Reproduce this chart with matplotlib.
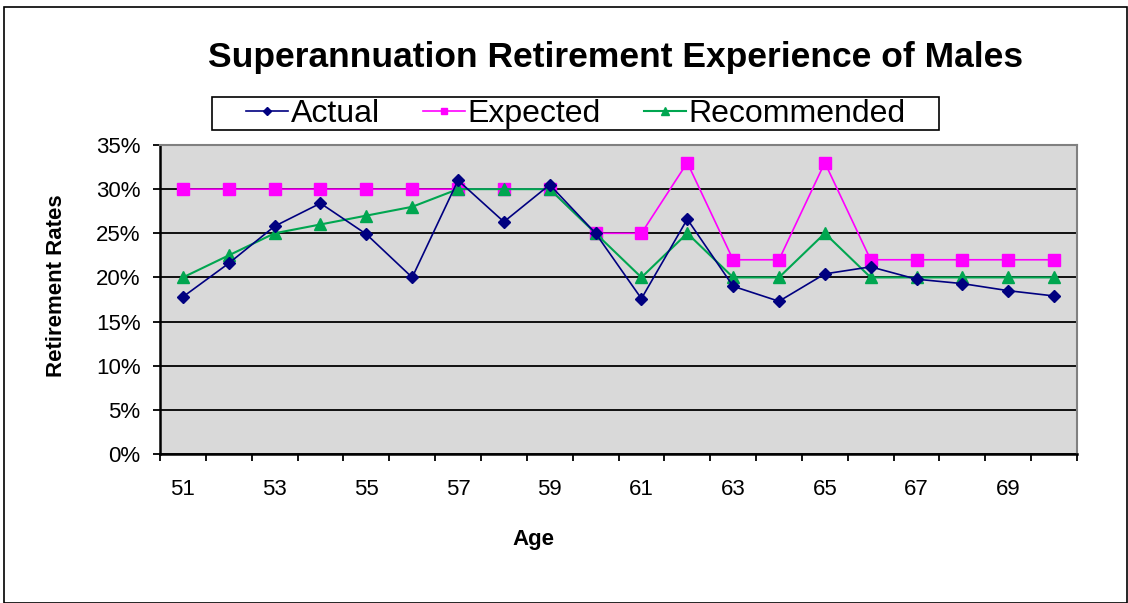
import matplotlib
matplotlib.use("Agg")
import matplotlib.pyplot as plt
from matplotlib.patches import Rectangle
from matplotlib.ticker import FixedLocator, FuncFormatter

plt.rcParams['font.family'] = ['Liberation Sans', 'DejaVu Sans']

ages = list(range(51, 71))
actual = [17.8, 21.6, 25.8, 28.4, 24.9, 20.0, 31.0, 26.3, 30.5, 25.0,
          17.6, 26.6, 19.0, 17.3, 20.4, 21.2, 19.8, 19.3, 18.5, 17.9]
expected = [30, 30, 30, 30, 30, 30, 30, 30, 30, 25,
            25, 33, 22, 22, 33, 22, 22, 22, 22, 22]
recommended = [20, 22.5, 25, 26, 27, 28, 30, 30, 30, 25,
               20, 25, 20, 20, 25, 20, 20, 20, 20, 20]
tick_ages = [51, 53, 55, 57, 59, 61, 63, 65, 67, 69]

W, H = 1128, 603
fig = plt.figure(figsize=(W / 100, H / 100), dpi=100)
fig.patch.set_facecolor('white')
fig.patches.append(Rectangle((4 / W, 0), 1 - 5 / W, 1 - 7 / H, transform=fig.transFigure,
                             fill=False, edgecolor='black', linewidth=1.2))

ax = fig.add_axes([160 / W, (H - 454) / H, (1077 - 160) / W, (454 - 145) / H])
ax.set_facecolor('#D9D9D9')
x = list(range(len(ages)))

ax.plot(x, actual, color='#000080', marker='D', markersize=6.5, linewidth=1.2,
        label='Actual', zorder=5)
ax.plot(x, expected, color='#FF00FF', marker='s', markersize=8, linewidth=1.2,
        label='Expected', zorder=4)
ax.plot(x, recommended, color='#00A650', marker='^', markersize=9, linewidth=1.5,
        label='Recommended', zorder=4)

ax.set_xlim(-0.5, len(ages) - 0.5)
ax.set_ylim(0, 35)
ax.set_yticks([0, 5, 10, 15, 20, 25, 30, 35])
ax.yaxis.set_major_formatter(FuncFormatter(lambda v, p: f"{int(v)}%"))
ax.grid(axis='y', color='black', linewidth=1.3)
ax.set_axisbelow(True)

ax.set_xticks([ages.index(a) for a in tick_ages])
ax.set_xticklabels([str(a) for a in tick_ages])
ax.xaxis.set_minor_locator(FixedLocator([i - 0.5 for i in range(len(ages) + 1)]))
ax.tick_params(axis='x', which='major', length=0, labelsize=16, pad=18)
ax.tick_params(axis='x', which='minor', length=5, width=1.3, direction='out')
ax.tick_params(axis='y', which='major', length=5, width=1.3, labelsize=16, pad=9)

for s in ['top', 'right']:
    ax.spines[s].set_color('#808080')
    ax.spines[s].set_linewidth(1.5)
for s in ['left', 'bottom']:
    ax.spines[s].set_color('black')
    ax.spines[s].set_linewidth(1.8)

ax.set_xlabel('Age', fontsize=16, fontweight='bold')
ax.xaxis.set_label_coords((533 - 160) / 917, (454 - 540) / 309)
ax.xaxis.label.set_va('center')
ax.set_ylabel('Retirement Rates', fontsize=16, fontweight='bold')
ax.yaxis.set_label_coords((57 - 160) / 917, (454 - 285.5) / 309)
ax.yaxis.label.set_va('center')

fig.text(616 / W, 1 - 57 / H, 'Superannuation Retirement Experience of Males',
         ha='center', va='center', fontsize=25.5, fontweight='bold')

fig.patches.append(Rectangle((212 / W, 1 - 130 / H), (939 - 212) / W, 33 / H,
                             transform=fig.transFigure, fill=True, facecolor='white',
                             edgecolor='black', linewidth=1.2, zorder=1))
leg = fig.legend(loc='center', bbox_to_anchor=(576 / W, 1 - 114 / H), ncol=3,
                 fontsize=23, frameon=False,
                 handlelength=1.3, handletextpad=0.1, columnspacing=1.35,
                 borderpad=0.0, markerscale=0.6)

fig.savefig('out.png', dpi=100)
